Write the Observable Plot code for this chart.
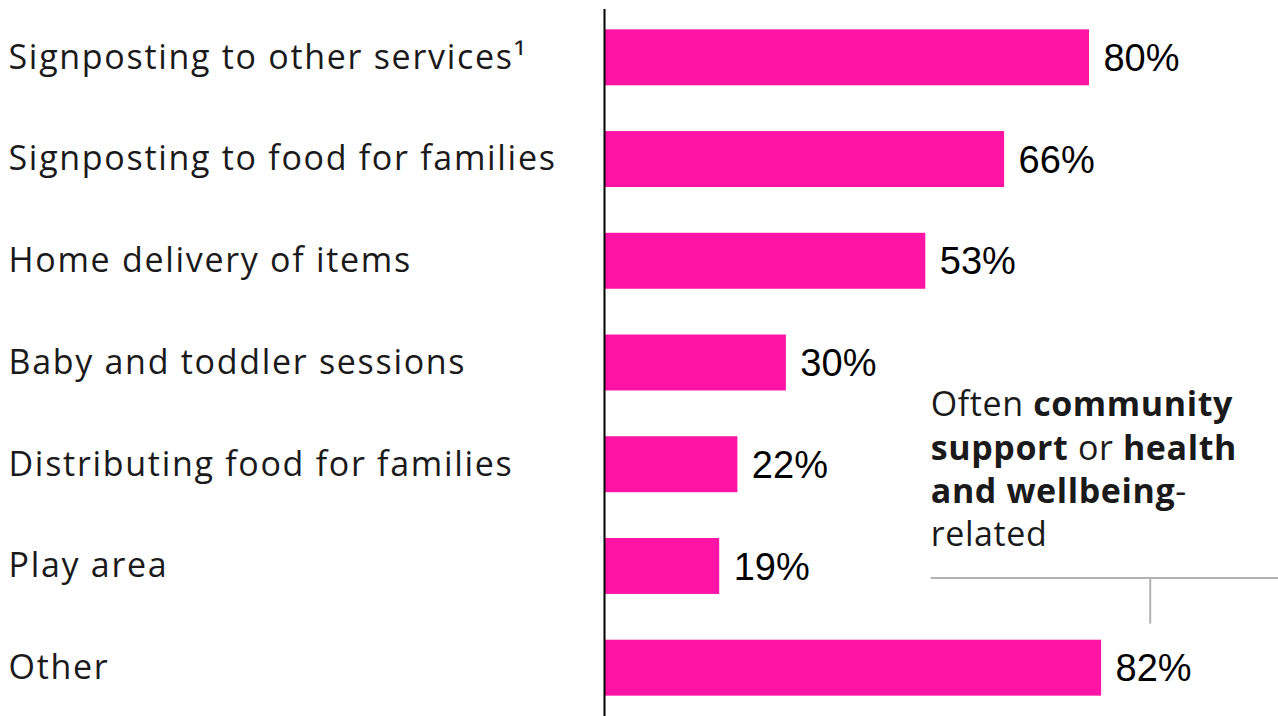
<!DOCTYPE html>
<html>
<head>
<meta charset="utf-8">
<script src="https://cdn.jsdelivr.net/npm/d3@7"></script>
<script src="https://cdn.jsdelivr.net/npm/@observablehq/plot@0.6"></script>
<style>
  html, body { margin: 0; padding: 0; background: #fff; }
  #wrap { position: relative; width: 1278px; height: 716px; overflow: hidden; }
</style>
</head>
<body>
<div id="wrap">
  <div id="chart"></div>
</div>
<script>
const categories = [
  "Signposting to other services¹",
  "Signposting to food for families",
  "Home delivery of items",
  "Baby and toddler sessions",
  "Distributing food for families",
  "Play area",
  "Other"
];
const values = [80, 66, 53, 30, 22, 19, 82];
const valueLabels = ["80%", "66%", "53%", "30%", "22%", "19%", "82%"];
// annotation lines: [text, bold] fragments
const noteLines = [
  [["Often ", false], ["community", true]],
  [["support", true], [" or ", false], ["health", true]],
  [["and wellbeing", true], ["-", false]],
  [["related", false]]
];

const data = categories.map((c, i) => ({category: c, value: values[i], label: valueLabels[i]}));
const pink = "#FF14A5";

const chart = Plot.plot({
  width: 1278,
  height: 716,
  marginLeft: 604,
  marginRight: 0,
  marginTop: 9,
  marginBottom: 0,
  x: {domain: [0, 111.18], axis: null},
  y: {domain: categories, axis: null, paddingInner: 0.45, paddingOuter: 0.2, round: false},
  style: {fontFamily: "Open Sans, sans-serif"},
  marks: [
    Plot.barX(data, {x: "value", y: "category", fill: pink}),
    Plot.ruleX([0], {stroke: "#000", strokeWidth: 2}),
    Plot.text(data, {x: "value", y: "category", text: "label", textAnchor: "start", dx: 14, dy: 1,
      fontSize: 38, fill: "#000", fontFamily: "Liberation Sans, Arial, sans-serif"}),
    Plot.text(data, {y: "category", text: "category", frameAnchor: "left", textAnchor: "start", dx: -596, dy: 0,
      fontSize: 34, fill: "#1a1a1a", fontFamily: "Open Sans, sans-serif", className: "catlabel"})
  ]
});
document.getElementById("chart").appendChild(chart);
d3.select(chart).selectAll(".catlabel text").style("letter-spacing", "1.7px");

// annotation text and bracket
const xs = chart.scale("x"), ys = chart.scale("y");
const svg = d3.select(chart);
const noteX = xs.apply(53.9);
const firstBaseline = ys.apply("Baby and toddler sessions") + ys.bandwidth + 26;
noteLines.forEach((frags, i) => {
  const t = svg.append("text")
    .attr("x", noteX).attr("y", firstBaseline + i * 43.3)
    .attr("text-anchor", "start")
    .attr("font-family", "Open Sans, sans-serif").attr("font-size", 34)
    .attr("fill", "#1a1a1a").style("letter-spacing", "0.6px");
  frags.forEach(([s, b]) => t.append("tspan").attr("font-weight", b ? 700 : 400).text(s));
});
const x2 = 1278;
const yPlayBottom = ys.apply("Play area") + ys.bandwidth;
const yOtherTop = ys.apply("Other");
const yH = yPlayBottom - 16;
const xV = xs.apply(90.1);
svg.append("line").attr("x1", noteX).attr("x2", x2).attr("y1", yH).attr("y2", yH)
  .attr("stroke", "#b3b3b3").attr("stroke-width", 2);
svg.append("line").attr("x1", xV).attr("x2", xV).attr("y1", yH).attr("y2", yOtherTop - 16)
  .attr("stroke", "#b3b3b3").attr("stroke-width", 2);
</script>
</body>
</html>
